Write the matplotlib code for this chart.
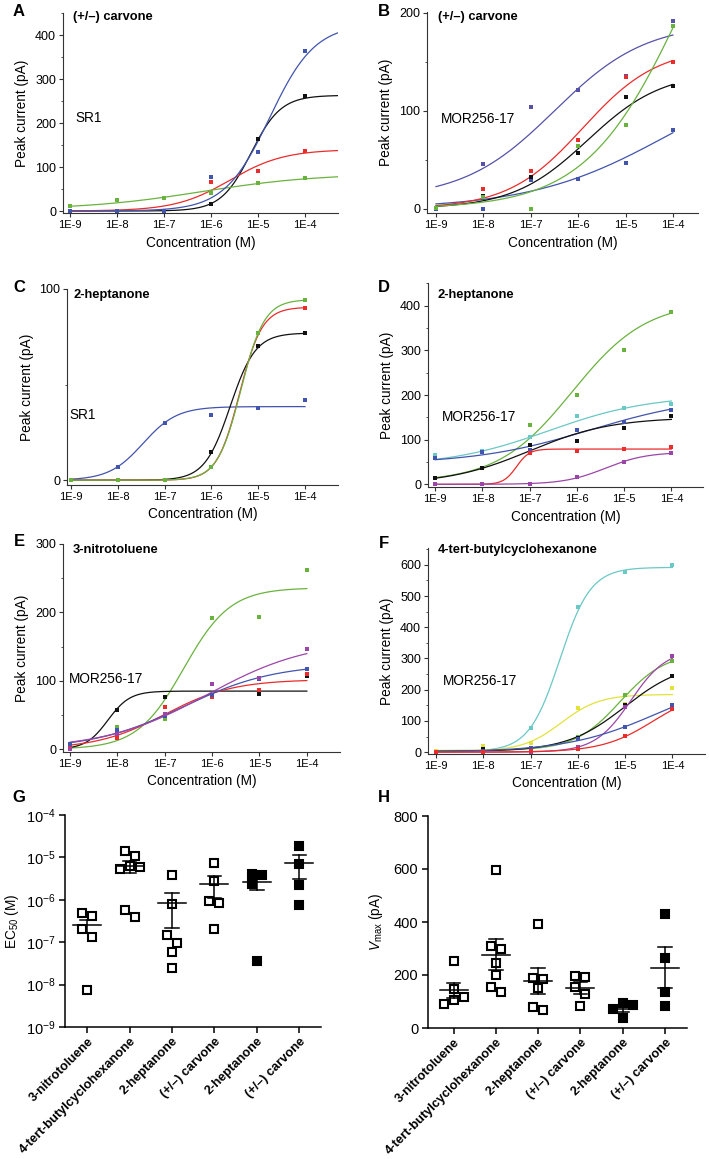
import numpy as np
import matplotlib
matplotlib.use('Agg')
import matplotlib.pyplot as plt
from matplotlib.ticker import MultipleLocator, FixedLocator, NullLocator, LogLocator, LogFormatterMathtext

plt.rcParams['font.family'] = ['Liberation Sans', 'DejaVu Sans']
plt.rcParams['mathtext.fontset'] = 'custom'
plt.rcParams['mathtext.rm'] = 'Liberation Sans'
plt.rcParams['mathtext.it'] = 'Liberation Sans:italic'
plt.rcParams['mathtext.bf'] = 'Liberation Sans:bold'

W, H = 709, 1159

# ---------------- data ----------------
log_conc = [-9, -8, -7, -6, -5, -4]
conc_labels = ['1E-9', '1E-8', '1E-7', '1E-6', '1E-5', '1E-4']

# fitted Hill curves: (bottom, top, logEC50, hill slope)

# A: SR1, (+/-) carvone
a_black = [0, 0, 0, 17, 163, 261]
a_red = [0, 1, 1, 65, 91, 136]
a_green = [12, 26, 29, 42, 63, 74]
a_blue = [0, 0, 0, 78, 133, 363]
a_black_fit = (0, 263, -5.15, 1.37)
a_red_fit = (0, 140, -5.6, 0.75)
a_green_fit = (3, 85, -6.2, 0.35)
a_blue_fit = (0, 425, -4.75, 0.9)

# B: MOR256-17, (+/-) carvone
b_blue1 = [0, 46, 104, 121, 136, 192]
b_blue2 = [0, 0, 29, 30, 47, 80]
b_red = [1, 20, 39, 70, 135, 150]
b_black = [1, 13, 32, 57, 114, 125]
b_green = [1, 12, 0, 64, 86, 187]
b_blue1_fit = (10, 190, -6.5, 0.45)
b_blue2_fit = (0, 150, -4.1, 0.3)
b_red_fit = (0, 165, -5.9, 0.55)
b_black_fit = (0, 140, -5.8, 0.55)
b_green_fit = (0, 420, -3.75, 0.42)

# C: SR1, 2-heptanone
c_blue = [0, 7, 30, 34, 38, 42]
c_black = [0, 0, 0, 15, 70, 77]
c_red = [0, 0, 0, 7, 77, 90]
c_green = [0, 0, 0, 7, 77, 94]
c_blue_fit = (0, 38.5, -7.46, 1.2)
c_black_fit = (0, 77, -5.6, 1.6)
c_red_fit = (0, 90.5, -5.4, 1.8)
c_green_fit = (0, 94.5, -5.37, 1.74)

# D: MOR256-17, 2-heptanone
d_green = [14, 36, 133, 200, 300, 386]
d_cyan = [65, 75, 106, 152, 170, 180]
d_blue = [58, 72, 76, 121, 140, 166]
d_black = [14, 36, 88, 97, 127, 154]
d_red = [0, 0, 70, 75, 80, 84]
d_purple = [0, 0, 1, 16, 51, 70]
d_green_fit = (5, 410, -6.1, 0.55)
d_cyan_fit = (40, 200, -6.6, 0.4)
d_blue_fit = (45, 200, -5.7, 0.35)
d_black_fit = (0, 150, -7.0, 0.5)
d_red_fit = (0, 79, -7.28, 3.2)
d_purple_fit = (0, 72, -5.4, 1.0)

# E: MOR256-17, 3-nitrotoluene
e_green = [1, 32, 44, 192, 193, 262]
e_black = [3, 58, 76, 80, 81, 107]
e_red = [4, 16, 62, 76, 86, 110]
e_blue = [8, 28, 48, 79, 103, 117]
e_purple = [1, 23, 51, 96, 104, 147]
e_green_fit = (0, 236, -6.6, 0.885)
e_black_fit = (0, 85, -8.2, 1.87)
e_red_fit = (0, 102, -7.0, 0.6)
e_blue_fit = (0, 125, -6.6, 0.45)
e_purple_fit = (0, 160, -6.1, 0.4)

# F: MOR256-17, 4-tert-butylcyclohexanone
f_cyan = [4, 5, 76, 465, 578, 600]
f_yellow = [4, 20, 29, 141, 154, 205]
f_green = [1, 3, 10, 50, 182, 293]
f_black = [2, 10, 13, 45, 150, 243]
f_purple = [0, 0, 0, 18, 143, 307]
f_blue = [1, 3, 13, 42, 81, 152]
f_red = [0, 1, 3, 11, 52, 138]
f_cyan_fit = (2, 592, -6.38, 1.33)
f_yellow_fit = (3, 185, -6.35, 1.07)
f_green_fit = (5, 320, -5.1, 0.9)
f_purple_fit = (0, 330, -4.88, 1.15)
f_black_fit = (2, 290, -5.0, 0.7)
f_blue_fit = (0, 250, -4.3, 0.45)
f_red_fit = (0, 200, -4.4, 0.8)

# G / H: summary per odorant (open = MOR256-17, filled = SR1)
summary_cats = ['3-nitrotoluene', '4-tert-butylcyclohexanone', '2-heptanone',
                '(+/\u2013) carvone', '2-heptanone', '(+/\u2013) carvone']
summary_filled = [False, False, False, False, True, True]
# log10 EC50 (M)
g_log_ec50 = [
    [-6.38, -6.32, -6.68, -6.87, -8.12],
    [-4.97, -4.86, -5.22, -5.27, -5.20, -6.40, -6.24],
    [-5.42, -6.10, -6.84, -7.01, -7.23, -7.62],
    [-5.14, -5.55, -6.04, -6.07, -6.68],
    [-5.42, -5.38, -5.62, -7.45],
    [-4.72, -5.16, -5.65, -6.13],
]
# Vmax (pA)
h_vmax = [
    [252, 147, 117, 104, 89],
    [595, 309, 299, 245, 200, 136, 155],
    [394, 186, 190, 151, 69, 78],
    [192, 196, 155, 128, 84],
    [87, 93, 73, 36],
    [429, 263, 137, 84],
]

# ---------------- style ----------------
K = '#111111'
BLUE = '#4154AE'
BLUE2 = '#5552A8'
RED = '#EC2B2B'
GREEN = '#6AB23E'
CYAN = '#6AC8C5'
PURPLE = '#9C45A8'
YELLOW = '#E2E23A'

fig = plt.figure(figsize=(W / 100, H / 100), dpi=100)


def px_axes(left, top, right, bottom):
    return fig.add_axes([left / W, 1 - bottom / H, (right - left) / W, (bottom - top) / H])


def ftext(x, y, s, **kw):
    fig.text(x / W, 1 - y / H, s, **kw)


def hill(x, bottom, top, logec, slope):
    return bottom + (top - bottom) / (1 + 10 ** ((logec - x) * slope))


def dose_panel(box, xlim, ylim, ymajor, series, x_end):
    ax = px_axes(*box)
    for color, pts, fit in series:
        xs = np.linspace(log_conc[0], x_end, 400)
        ax.plot(xs, hill(xs, *fit), color=color, lw=0.9, zorder=2)
    for color, pts, fit in series:
        ax.plot(log_conc, pts, 's', color=color, ms=3.4, mew=0, zorder=3, clip_on=False)
    ax.set_xlim(*xlim)
    ax.set_ylim(*ylim)
    ax.xaxis.set_major_locator(FixedLocator(log_conc))
    ax.set_xticklabels(conc_labels)
    ax.yaxis.set_major_locator(MultipleLocator(ymajor))
    ax.yaxis.set_minor_locator(MultipleLocator(ymajor / 2))
    for s in ['top', 'right']:
        ax.spines[s].set_visible(False)
    for s in ['left', 'bottom']:
        ax.spines[s].set_linewidth(0.8)
        ax.spines[s].set_color('#333333')
    ax.tick_params(axis='both', which='major', direction='out', length=3, width=0.8, pad=2,
                   color='#333333')
    ax.tick_params(axis='y', which='minor', direction='out', length=1.8, width=0.6, color='#333333')
    ax.tick_params(axis='x', labelsize=8)
    ax.tick_params(axis='y', labelsize=9)
    ax.set_xlabel('Concentration (M)', fontsize=9.8, labelpad=4)
    ax.set_ylabel('Peak current (pA)', fontsize=9.8, labelpad=4)
    return ax


# A
dose_panel((63, 13, 338, 213), (-9.149, -3.298), (-4.5, 450), 100,
           [(K, a_black, a_black_fit), (RED, a_red, a_red_fit),
            (GREEN, a_green, a_green_fit), (BLUE, a_blue, a_blue_fit)], -3.3)
# B
dose_panel((427, 12, 698, 213), (-9.19, -3.47), (-4.4, 201), 100,
           [(BLUE2, b_blue1, b_blue1_fit), (BLUE, b_blue2, b_blue2_fit),
            (RED, b_red, b_red_fit), (K, b_black, b_black_fit),
            (GREEN, b_green, b_green_fit)], -4)
# C
dose_panel((67, 289, 338, 485), (-9.085, -3.295), (-2.5, 100), 100,
           [(BLUE, c_blue, c_blue_fit), (K, c_black, c_black_fit),
            (RED, c_red, c_red_fit), (GREEN, c_green, c_green_fit)], -4)
# D
dose_panel((428, 283, 703, 487), (-9.154, -3.33), (-6, 451), 100,
           [(GREEN, d_green, d_green_fit), (CYAN, d_cyan, d_cyan_fit),
            (BLUE, d_blue, d_blue_fit), (K, d_black, d_black_fit),
            (RED, d_red, d_red_fit), (PURPLE, d_purple, d_purple_fit)], -4)
# E
dose_panel((63, 544, 340, 752), (-9.148, -3.30), (-4, 300), 100,
           [(GREEN, e_green, e_green_fit), (K, e_black, e_black_fit),
            (RED, e_red, e_red_fit), (BLUE, e_blue, e_blue_fit),
            (PURPLE, e_purple, e_purple_fit)], -4)
# F
dose_panel((428, 548, 705, 754), (-9.168, -3.31), (-6, 654), 100,
           [(CYAN, f_cyan, f_cyan_fit), (YELLOW, f_yellow, f_yellow_fit),
            (GREEN, f_green, f_green_fit), (K, f_black, f_black_fit),
            (PURPLE, f_purple, f_purple_fit), (BLUE, f_blue, f_blue_fit),
            (RED, f_red, f_red_fit)], -4)

# panel titles and receptor labels
for x, y, s in [(73, 17, '(+/\u2013) carvone'), (438, 17, '(+/\u2013) carvone'),
                (73, 295, '2-heptanone'), (438, 295, '2-heptanone'),
                (73, 550, '3-nitrotoluene'), (438, 550, '4-tert-butylcyclohexanone')]:
    ftext(x, y, s, fontsize=9.3, fontweight='bold', ha='left', va='center')
for x, y, s in [(75, 118, 'SR1'), (441, 119, 'MOR256-17'), (69, 415, 'SR1'),
                (442, 417, 'MOR256-17'), (69, 679, 'MOR256-17'), (443, 681, 'MOR256-17')]:
    ftext(x, y, s, fontsize=9.8, ha='left', va='center')
for x, y, s in [(19, 11, 'A'), (384, 12, 'B'), (19, 288, 'C'), (384, 288, 'D'),
                (19, 542, 'E'), (384, 543, 'F'), (19, 797, 'G'), (384, 797, 'H')]:
    ftext(x, y, s, fontsize=12, fontweight='bold', ha='center', va='center')


def swarm_offsets(ax, vals, dx_px=10, thr_px=9):
    vals = np.asarray(vals, dtype=float)
    ypx = ax.transData.transform(np.column_stack([np.zeros(len(vals)), vals]))[:, 1]
    offs = np.zeros(len(vals))
    placed = []
    for i in np.argsort(-ypx):
        for k in [0, 1, -1, 2, -2, 3, -3]:
            o = k * dx_px
            if all(not (abs(o - offs[j]) < dx_px and abs(ypx[i] - ypx[j]) < thr_px) for j in placed):
                break
        offs[i] = o
        placed.append(i)
    # centre each cluster of overlapping points
    order = np.argsort(ypx)
    cluster = [order[0]]
    groups = []
    for a, b in zip(order[:-1], order[1:]):
        if ypx[b] - ypx[a] < thr_px:
            cluster.append(b)
        else:
            groups.append(cluster)
            cluster = [b]
    groups.append(cluster)
    for g in groups:
        shift = (offs[g].min() + offs[g].max()) / 2
        offs[g] -= shift
    unit = ax.transData.transform([[1, 1]])[0, 0] - ax.transData.transform([[0, 1]])[0, 0]
    return offs / unit


def summary_panel(box, xlim, ylim, groups, log_y):
    ax = px_axes(*box)
    if log_y:
        ax.set_yscale('log')
    ax.set_xlim(*xlim)
    ax.set_ylim(*ylim)
    for i, vals in enumerate(groups):
        vals = np.asarray(vals, dtype=float)
        xo = swarm_offsets(ax, vals)
        ax.plot(i + xo, vals, 's', ms=5.2, mew=1.5, mec='black',
                mfc='black' if summary_filled[i] else 'white', zorder=3, clip_on=False)
        m = vals.mean()
        sem = vals.std(ddof=1) / np.sqrt(len(vals))
        ax.plot([i - 0.33, i + 0.33], [m, m], color='black', lw=1.1, zorder=4)
        ax.plot([i, i], [m - sem, m + sem], color='black', lw=1.1, zorder=4)
        for yv in (m - sem, m + sem):
            ax.plot([i - 0.16, i + 0.16], [yv, yv], color='black', lw=1.1, zorder=4)
    ax.xaxis.set_major_locator(FixedLocator(range(len(summary_cats))))
    ax.set_xticklabels(summary_cats, rotation=45, ha='right', rotation_mode='anchor',
                       fontweight='bold', fontsize=9.2)
    for s in ['top', 'right']:
        ax.spines[s].set_visible(False)
    for s in ['left', 'bottom']:
        ax.spines[s].set_linewidth(1.1)
    ax.tick_params(axis='both', which='major', direction='out', length=4, width=1.1, pad=3)
    ax.tick_params(axis='x', pad=2)
    ax.tick_params(axis='y', labelsize=10.5)
    return ax


# G
axg = summary_panel((65, 815, 321, 1027), (-0.52, 5.51), (1e-9, 1e-4),
                    [10.0 ** np.asarray(v) for v in g_log_ec50], True)
axg.yaxis.set_major_locator(LogLocator(base=10, numticks=10))
axg.yaxis.set_major_formatter(LogFormatterMathtext())
axg.yaxis.set_minor_locator(NullLocator())
axg.set_ylabel('EC$_{50}$ (M)', fontsize=9.8, labelpad=3)

# H
axh = summary_panel((428, 816, 687, 1028), (-0.605, 5.52), (0, 800), h_vmax, False)
axh.yaxis.set_major_locator(MultipleLocator(200))
axh.set_ylabel('$\\mathit{V}_{\\mathrm{max}}$ (pA)', fontsize=9.8, labelpad=6)

fig.savefig('out.png', dpi=100)
